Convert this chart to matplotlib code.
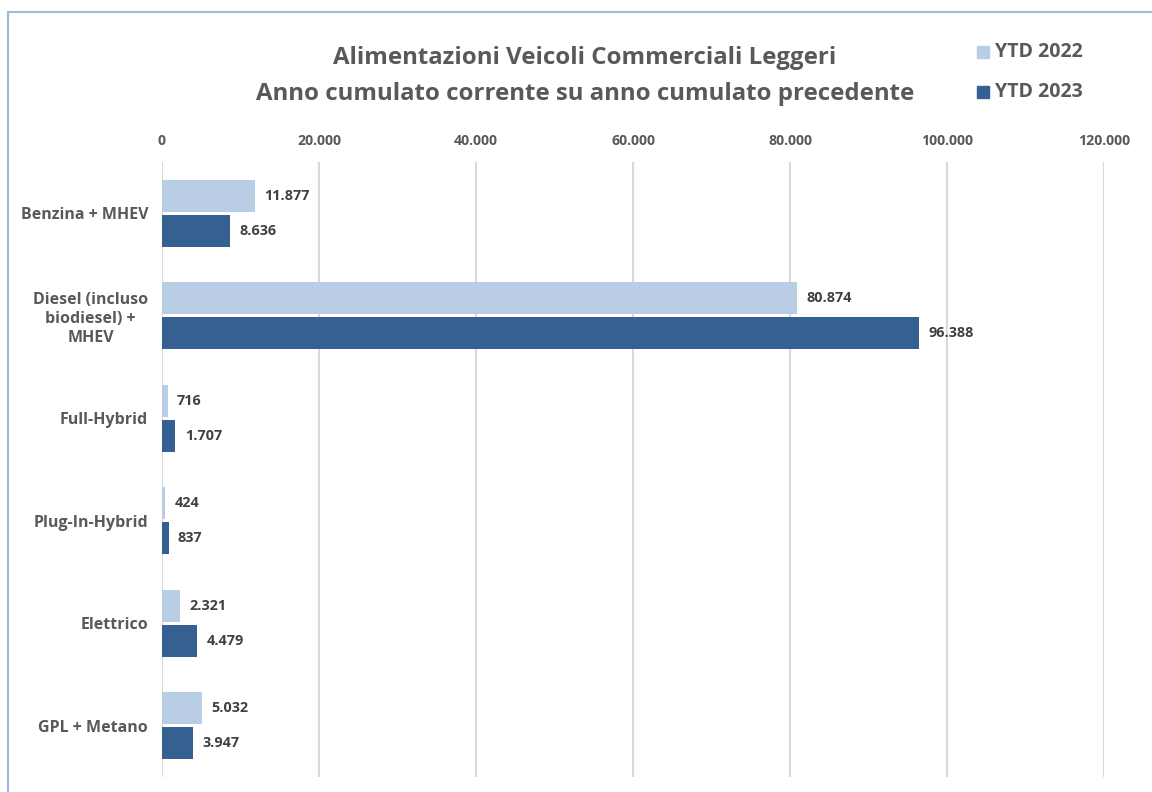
import matplotlib
matplotlib.use("Agg")
import matplotlib.pyplot as plt
import numpy as np
from matplotlib.patches import Rectangle
from matplotlib.ticker import FuncFormatter

categories = ["Benzina + MHEV", "Diesel (incluso\nbiodiesel) +\nMHEV", "Full-Hybrid",
              "Plug-In-Hybrid", "Elettrico", "GPL + Metano"]
ytd_2022 = [11877, 80874, 716, 424, 2321, 5032]
ytd_2023 = [8636, 96388, 1707, 837, 4479, 3947]
series_names = ["YTD 2022", "YTD 2023"]

light = "#B9CDE5"
dark = "#366092"
text_grey = "#595959"
label_grey = "#404040"

plt.rcParams['font.family'] = ['Open Sans', 'DejaVu Sans']

def it_fmt(v):
    return f"{int(round(v)):,}".replace(",", ".")

fig = plt.figure(figsize=(11.52, 7.92), dpi=100)
fig.patch.set_facecolor("white")

# outer frame of the chart area
fig.add_artist(Rectangle((8 / 1152, -0.05), 1.2, 1 - 12 / 792 + 0.05,
                         transform=fig.transFigure, fill=False,
                         edgecolor="#9DB9DC", linewidth=1.5))

ax = fig.add_axes([162 / 1152, 15 / 792, (1104 - 162) / 1152, (630 - 15) / 792])

y = np.arange(len(categories))
h = 0.31
gap = 0.015
ax.barh(y - h / 2 - gap, ytd_2022, height=h, color=light, zorder=3)
ax.barh(y + h / 2 + gap, ytd_2023, height=h, color=dark, zorder=3)

for yi, v in zip(y, ytd_2022):
    ax.text(v + 1200, yi - h / 2 - gap, it_fmt(v), va="center", ha="left",
            fontsize=10.4, fontweight="bold", color=label_grey)
for yi, v in zip(y, ytd_2023):
    ax.text(v + 1200, yi + h / 2 + gap, it_fmt(v), va="center", ha="left",
            fontsize=10.4, fontweight="bold", color=label_grey)

ax.set_xlim(0, 120000)
ax.set_ylim(len(categories) - 0.5, -0.5)
ax.set_xticks(np.arange(0, 120001, 20000))
ax.xaxis.set_major_formatter(FuncFormatter(lambda v, p: it_fmt(v)))
ax.xaxis.tick_top()
ax.tick_params(axis="x", length=0, pad=10, labelsize=10.2, labelcolor=text_grey)
for lbl in ax.get_xticklabels():
    lbl.set_fontweight("bold")
ax.set_yticks(y)
ax.set_yticklabels(categories, fontsize=11.5, fontweight="bold", color=text_grey,
                   ha="right", multialignment="center", linespacing=1.25)
ax.tick_params(axis="y", length=0, pad=10)
ax.grid(axis="x", color="#D9D9D9", linewidth=1.5, zorder=0)
for s in ax.spines.values():
    s.set_visible(False)

fig.text(585 / 1152, 1 - 58 / 792, "Alimentazioni Veicoli Commerciali Leggeri",
         ha="center", va="center", fontsize=17.3, fontweight="bold", color=text_grey)
fig.text(585 / 1152, 1 - 94 / 792, "Anno cumulato corrente su anno cumulato precedente",
         ha="center", va="center", fontsize=17.3, fontweight="bold", color=text_grey)

for name, col, yy in zip(series_names, [light, dark], [52, 92]):
    fig.add_artist(Rectangle((977 / 1152, 1 - (yy + 6) / 792), 12 / 1152, 12 / 792,
                             transform=fig.transFigure, color=col))
    fig.text(995 / 1152, 1 - yy / 792, name, ha="left", va="center",
             fontsize=14, fontweight="bold", color=text_grey)

fig.savefig("out.png", dpi=100)
